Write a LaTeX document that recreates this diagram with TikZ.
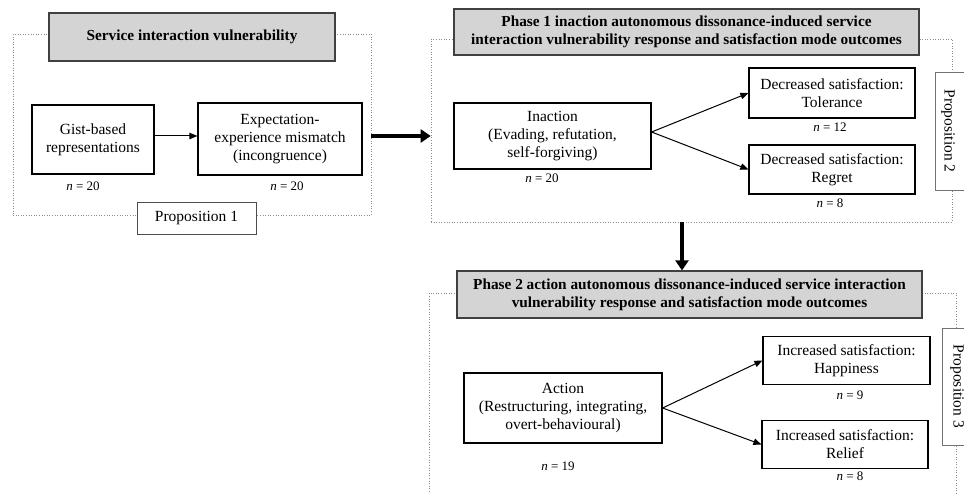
\documentclass[tikz,border=0pt]{standalone}
\usepackage{fontspec}
\setmainfont{Liberation Serif}
\usetikzlibrary{arrows.meta}
\begin{document}
\begin{tikzpicture}[x=1pt,y=-1pt,
  every node/.style={font=\fontsize{15.5}{18}\selectfont},
  frame/.style={draw=black!45, dotted, line width=0.6pt, inner sep=0},
  head/.style={draw=black!75, fill=black!17, line width=1.2pt, align=center, font=\fontsize{15.3}{18}\selectfont\bfseries, inner sep=0},
  box/.style={draw=black, line width=1.2pt, align=center, inner sep=0, fill=white},
  nlab/.style={font=\fontsize{13}{15}\selectfont, inner sep=0},
  prop/.style={draw=black!55, line width=0.8pt, fill=white, inner sep=0},
  arr/.style={-{Triangle[length=8pt,width=6.5pt]}, line width=1pt},
  bigarr/.style={-{Triangle[length=10pt,width=13pt]}, line width=4pt},
]
\clip (0,0) rectangle (964,494);
% group 1
\node[frame, minimum width=358, minimum height=181] (f1) at (192,124.5) {};
\node[head, minimum width=286, minimum height=48] (h1) at (192,37) {Service interaction vulnerability};
\node[box, minimum width=122, minimum height=69] (gist) at (93,139.5) {Gist-based\\representations};
\node[box, minimum width=164, minimum height=72] (expect) at (280,139) {Expectation-\\experience mismatch\\(incongruence)};
\node[nlab] (n1) at (83,186) {\textit{n} = 20};
\node[nlab] (n2) at (287,186) {\textit{n} = 20};
\node[prop, draw=black!70, minimum width=119, minimum height=32] (p1) at (196.5,218) {Proposition 1};
\draw[arr] (gist.east |- 0,136) -- (expect.west |- 0,136);
% group 2
\node[frame, minimum width=521, minimum height=183] (f2) at (691.5,130.5) {};
\node[head, minimum width=465, minimum height=46] (h2) at (686.5,32) {Phase 1 inaction autonomous dissonance-induced service\\interaction vulnerability response and satisfaction mode outcomes};
\node[box, minimum width=197, minimum height=66] (inaction) at (552.5,136) {Inaction\\(Evading, refutation,\\self-forgiving)};
\node[nlab] (n3) at (542,178) {\textit{n} = 20};
\node[box, minimum width=166, minimum height=50] (tol) at (832,93) {Decreased satisfaction:\\Tolerance};
\node[box, minimum width=166, minimum height=49] (reg) at (832,169.5) {Decreased satisfaction:\\Regret};
\node[nlab] (n4) at (830,127.5) {\textit{n} = 12};
\node[nlab] (n5) at (830,203) {\textit{n} = 8};
\node[prop, rotate=-90, minimum width=118, minimum height=40] (p2box) at (955,131) {};
\node[rotate=-90, inner sep=0] (p2) at (948,131) {Proposition 2};
\draw[arr] (inaction.east |- 0,132) -- (tol.west);
\draw[arr] (inaction.east |- 0,132) -- (reg.west);
% group 3
\node[frame, minimum width=527, minimum height=217] (f3) at (692.5,401.5) {};
\node[head, minimum width=465, minimum height=47] (h3) at (689.5,294.5) {Phase 2 action autonomous dissonance-induced service interaction\\vulnerability response and satisfaction mode outcomes};
\node[box, minimum width=198, minimum height=70] (action) at (563,408) {Action\\(Restructuring, integrating,\\overt-behavioural)};
\node[nlab] (n6) at (558,466) {\textit{n} = 19};
\node[box, minimum width=167, minimum height=48] (hap) at (846.5,360.5) {Increased satisfaction:\\Happiness};
\node[box, minimum width=166, minimum height=48] (rel) at (845,444.5) {Increased satisfaction:\\Relief};
\node[nlab] (n7) at (850,395) {\textit{n} = 9};
\node[nlab] (n8) at (850,476.5) {\textit{n} = 8};
\node[prop, rotate=-90, minimum width=117, minimum height=40] (p3box) at (962,386.5) {};
\node[rotate=-90, inner sep=0] (p3) at (957,386.5) {Proposition 3};
\draw[arr] (action.east) -- (hap.west);
\draw[arr] (action.east) -- (rel.west);
% phase connectors
\coordinate (vx) at (682,0);
\draw[bigarr] (f1.east |- 0,136) -- (f2.west |- 0,136);
\draw[bigarr] (f2.south -| vx) -- (h3.north -| vx);
\end{tikzpicture}
\end{document}
